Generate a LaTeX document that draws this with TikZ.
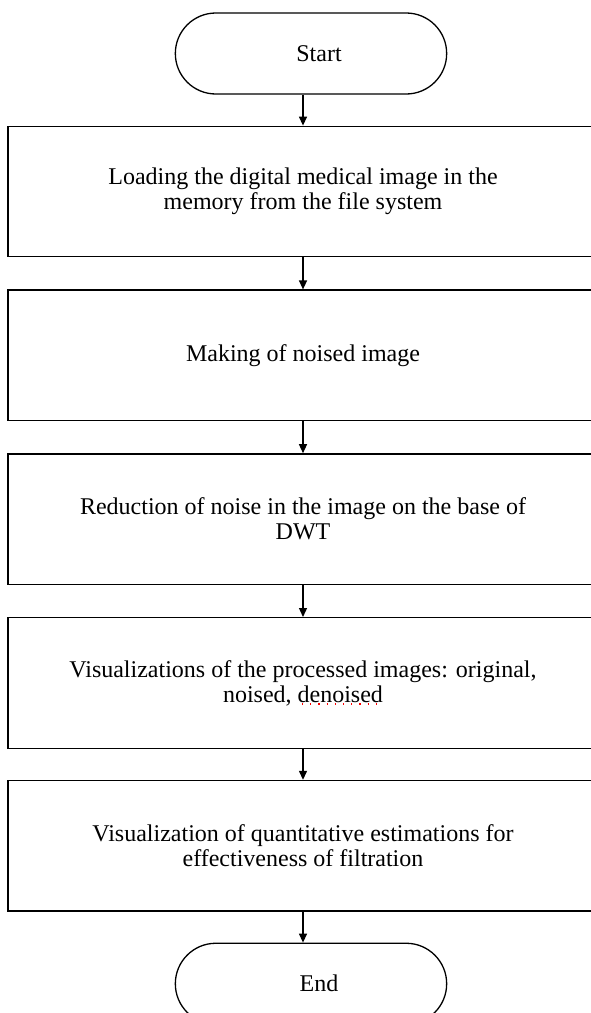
\documentclass[tikz,border=0pt]{standalone}
\usepackage{fontspec}
\setmainfont{Liberation Serif}
\usetikzlibrary{arrows.meta, positioning, shapes.misc}
\tikzset{
    % Process boxes and terminals
    stepbox/.style={draw, line width=1.3pt, minimum width=590pt, minimum height=130.5pt, align=center, font=\fontsize{24}{25}\selectfont},
    terminal/.style={draw, line width=1.3pt, rounded rectangle, minimum width=278pt, minimum height=81pt, font=\fontsize{24}{25}\selectfont},
    flow/.style={-{Triangle[length=9pt, width=8pt]}, line width=1.3pt}
}
\begin{document}
\begin{tikzpicture}[x=1pt, y=-1pt]
        \path[use as bounding box, clip] (0,0) rectangle (591,1013);
        \fill[white] (0,0) rectangle (591,1013);

        % Terminal and process steps
        \node[terminal] (Start) at (311,53.5) {\hspace*{16pt}Start};
        \node[stepbox] (Load) at (303,191.5) {Loading the digital medical image in the\\memory from the file system};
        \node[stepbox, below=32pt of Load] (Noise) {Making of noised image};
        \node[stepbox, below=32pt of Noise] (Reduce) {Reduction of noise in the image on the base of\\DWT};
        \node[stepbox, below=32pt of Reduce] (Show) {Visualizations of the processed images: original,\\noised, denoised};
        \node[stepbox, below=31pt of Show] (Estim) {Visualization of quantitative estimations for\\effectiveness of filtration};
        \node[terminal, below=31pt of Estim, xshift=8pt] (End) {\hspace*{16pt}End};

        % Spell-check underline
        \draw[red, line width=1.2pt, dash pattern=on 1.2pt off 7pt] (302,704) -- (377,704);

        % Connections
        \draw[flow] (Load.north |- Start.south) -- (Load.north);
        \draw[flow] (Load) -- (Noise);
        \draw[flow] (Noise) -- (Reduce);
        \draw[flow] (Reduce) -- (Show);
        \draw[flow] (Show) -- (Estim);
        \draw[flow] (Estim.south) -- (Estim.south |- End.north);
\end{tikzpicture}
\end{document}
